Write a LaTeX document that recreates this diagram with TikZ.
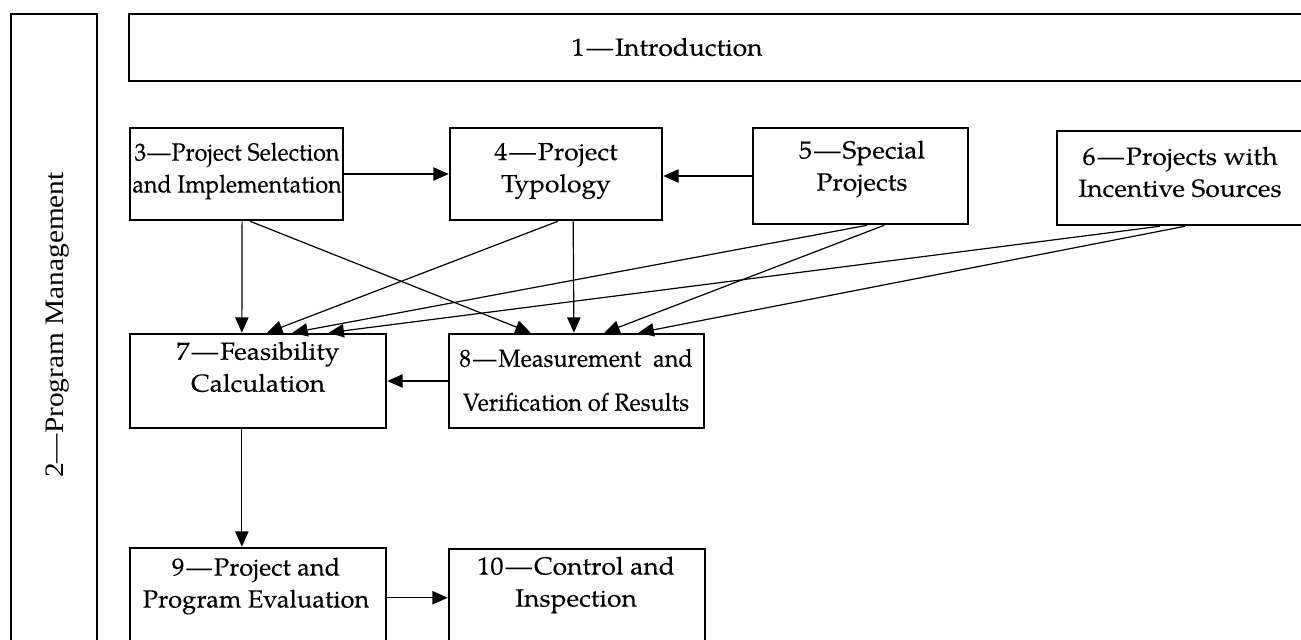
\documentclass[tikz,border=0pt]{standalone}
\usepackage{fontspec}
\setmainfont{TeX Gyre Pagella}
\newfontfamily\fwide[FakeStretch=1.07,FakeBold=0.12]{TeX Gyre Pagella}
\newfontfamily\fnarrow[FakeStretch=0.94,FakeBold=0.12]{TeX Gyre Pagella}
\newfontfamily\fmid[FakeStretch=0.95,FakeBold=0.12]{TeX Gyre Pagella}
\newfontfamily\fnine[FakeStretch=1.03,FakeBold=0.12]{TeX Gyre Pagella}
\newfontfamily\lbfont[FakeStretch=1.1]{Liberation Serif}
\newcommand{\dsh}{\kern1.5pt—\kern1.5pt}
\newcommand{\dshn}{\kern0.8pt—\kern0.8pt}
\usetikzlibrary{arrows.meta,fit,calc}
\begin{document}
\begin{tikzpicture}[x=0.75pt,y=-0.75pt,
  box/.style={draw, line width=1.9pt, inner sep=0pt},
  arr/.style={line width=0.9pt, -{Triangle[length=11.5pt,width=10pt]}},
  lbl/.style={align=center, font=\fwide\fontsize{18.5}{24}\selectfont, inner sep=0pt},
  lbln/.style={align=center, font=\fnarrow\fontsize{18.5}{24}\selectfont, inner sep=0pt},
  wide/.style={align=center, font=\fmid\fontsize{18.5}{33}\selectfont, inner sep=0pt}]
\useasboundingbox (0,0) rectangle (1301,639);
\clip (0,0) rectangle (1301,639);
% boxes
\node[box, fit={(11,14) (97,680)}] (b2) {};
\node[box, fit={(129,14) (1340,81)}] (b1) {};
\node[box, fit={(130,128) (343,220)}] (b3) {};
\node[box, fit={(450,128) (662,220)}] (b4) {};
\node[box, fit={(753,128) (968,224)}] (b5) {};
\node[box, fit={(1057,131) (1303,225)}] (b6) {};
\node[box, fit={(130,334) (386,428)}] (b7) {};
\node[box, fit={(449,334) (704,428)}] (b8) {};
\node[box, fit={(130,548) (386,680)}] (b9) {};
\node[box, fit={(449,549) (705,680)}] (b10) {};
% texts
\node[lbl] (t1) at (667,47) {1\dsh Introduction};
\node[anchor=base, rotate=90, inner sep=0pt, font=\lbfont\fontsize{20}{24}\selectfont] (t2) at (63,325) {2—Program Management};
\node[lbln] (t3) at (237,171) {3\dshn Project Selection\\and Implementation};
\node[lbl] (t4) at (556,171) {4\dsh Project\\Typology};
\node[lbl] (t5) at (862,169) {5\dsh Special\\Projects};
\node[lbl] (t6) at (1180,172) {6\dsh Projects with\\Incentive Sources};
\node[lbl] (t7) at (258,367) {7\dsh Feasibility\\Calculation};
\node[wide] (t8) at (576,380) {8\dsh Measurement\ \ and\\Verification of Results};
\node[lbl, font=\fnine\fontsize{18.5}{24}\selectfont] (t9) at (256,586) {9\dsh Project and\\Program Evaluation};
\node[lbl] (t10) at (576,585) {10\dsh Control and\\Inspection};
% connectors
\draw[arr] (b3.east) -- (b3.east -| b4.west);
\draw[arr] (b5.west) -- (b5.west -| b4.east);
\draw[arr] ($(b3.south west)!0.526!(b3.south east)$) -- ($(b7.north west)!0.4375!(b7.north east)$);
\draw[arr] ($(b3.south west)!0.563!(b3.south east)$) -- ($(b8.north west)!0.322!(b8.north east)$);
\draw[arr] ($(b4.south west)!0.509!(b4.south east)$) -- ($(b7.north west)!0.535!(b7.north east)$);
\draw[arr] ($(b4.south west)!0.580!(b4.south east)$) -- ($(b8.north west)!0.490!(b8.north east)$);
\draw[arr] ($(b5.south west)!0.530!(b5.south east)$) -- ($(b7.north west)!0.633!(b7.north east)$);
\draw[arr] ($(b5.south west)!0.609!(b5.south east)$) -- ($(b8.north west)!0.608!(b8.north east)$);
\draw[arr] ($(b6.south west)!0.419!(b6.south east)$) -- ($(b7.north west)!0.773!(b7.north east)$);
\draw[arr] ($(b6.south west)!0.520!(b6.south east)$) -- ($(b8.north west)!0.741!(b8.north east)$);
\draw[arr] (b8.west) -- (b8.west -| b7.east);
\coordinate (c79) at ($(b7.south west)!0.4375!(b7.south east)$);
\draw[arr] (c79) -- (c79 |- b9.north);
\coordinate (c910) at ($(b9.north east)+(0,51)$);
\draw[arr] (c910) -- (c910 -| b10.west);
\end{tikzpicture}
\end{document}
